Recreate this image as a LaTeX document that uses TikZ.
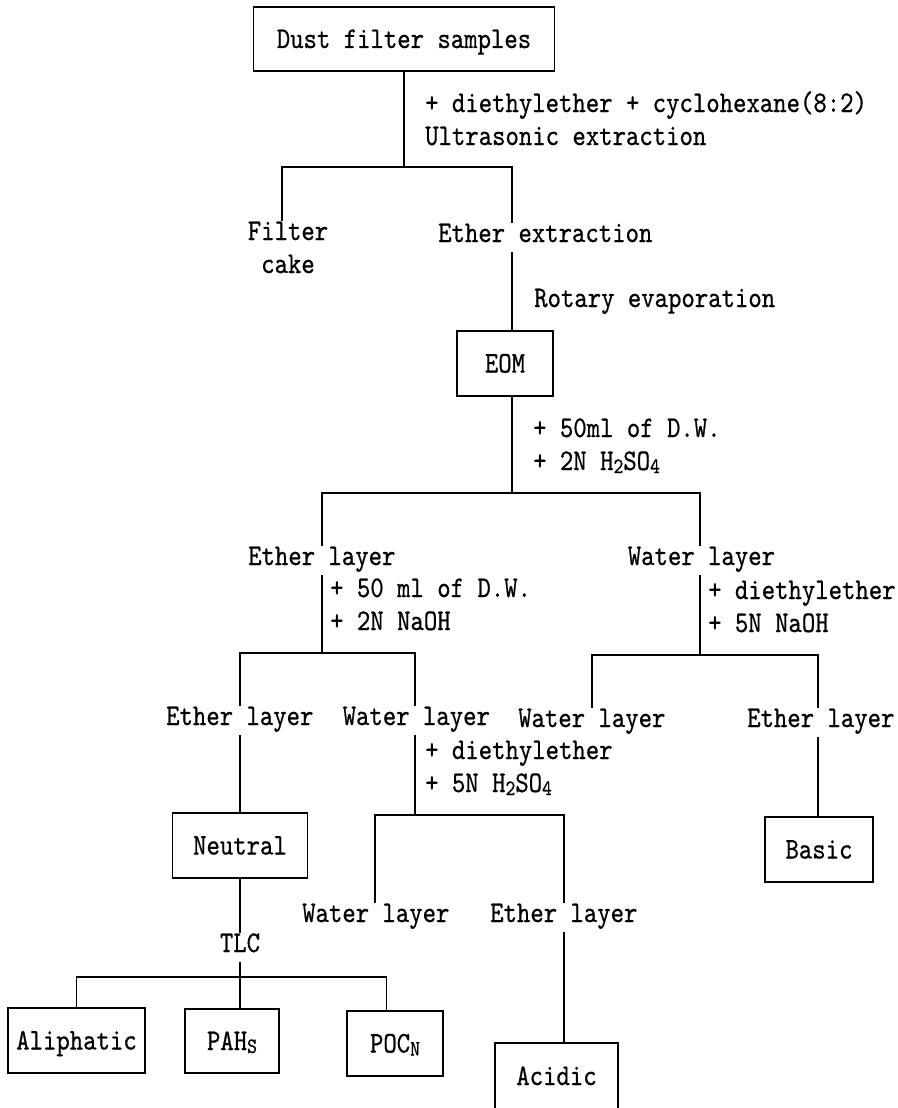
\documentclass[tikz,border=0pt]{standalone}
\usepackage{fontspec}
\newfontfamily\flowfont{lmmono10-regular.otf}[FakeStretch=0.85, FakeBold=0.6]
\usetikzlibrary{positioning}
\newcommand\flowsize{\flowfont\fontsize{30}{33}\selectfont}
\newcommand\dn[1]{\raisebox{-3pt}{\fontsize{22}{22}\selectfont #1}}
\tikzset{
  box/.style  = {rectangle, draw=black, line width=1.4pt, inner sep=0pt,
                 text height=18pt, text depth=0pt, font=\flowsize},
  lbl/.style  = {inner sep=0pt, anchor=base west, text height=19pt,
                 text depth=10pt, font=\flowsize},
  note/.style = {inner sep=0pt, anchor=base west, align=left, font=\flowsize},
  ln/.style   = {line width=1.4pt, black},
}
\begin{document}
\begin{tikzpicture}[x=1pt, y=-1pt]
  \useasboundingbox (0,0) rectangle (897,1108);
  \clip (0,0) rectangle (897,1108);
  % boxes
  \node[box, minimum width=301pt, minimum height=64pt] (dfs) at (404,39) {Dust filter samples};
  \node[box, minimum width=96pt, minimum height=65pt] (eom) at (505,363.5) {EOM};
  \node[box, minimum width=135pt, minimum height=65pt] (neutral) at (240,845.5) {Neutral};
  \node[box, minimum width=137pt, minimum height=65pt] (aliph) at (76.5,1040.5) {Aliphatic};
  \node[box, minimum width=94pt, minimum height=64pt] (pahs) at (232,1041) {PAH\dn{S}};
  \node[box, minimum width=96pt, minimum height=65pt] (pocn) at (395,1043.5) {POC\dn{N}};
  \node[box, minimum width=123pt, minimum height=66pt] (acidic) at (556.5,1076) {Acidic};
  \node[box, minimum width=108pt, minimum height=65pt] (basic) at (819,849.5) {Basic};
  % reagents and steps (anchored on the last line)
  \node[note] (addA) at (425,145) {+ diethylether + cyclohexane(8:2)\\Ultrasonic extraction};
  \node[note] (addB) at (533,470) {+ 50ml of D.W.\\+ 2N H\dn{2}SO\dn{4}};
  \node[note] (addC) at (330,630) {+ 50 ml of D.W.\\+ 2N NaOH};
  \node[note] (addD) at (708,632) {+ diethylether\\+ 5N NaOH};
  \node[note] (addE) at (425,792) {+ diethylether\\+ 5N H\dn{2}SO\dn{4}};
  \node[lbl] (rot) at (534,307) {Rotary evaporation};
  % fractions
  \node[note, align=center, anchor=base] (fc) at (288,273) {Filter\\cake};
  \node[lbl] (ee) at (438,242) {Ether extraction};
  \node[lbl] (el1) at (248,565) {Ether layer};
  \node[lbl] (wl1) at (627.6,565) {Water layer};
  \node[lbl] (el2) at (166,725) {Ether layer};
  \node[lbl] (wl2) at (342.5,725) {Water layer};
  \node[lbl] (wl3) at (518,727) {Water layer};
  \node[lbl] (el3) at (747,727) {Ether layer};
  \node[lbl] (wl4) at (302,922) {Water layer};
  \node[lbl] (el4) at (490,922) {Ether layer};
  \node[lbl, anchor=base] (tlc) at (240,952) {TLC};
  % split points
  \coordinate (sa) at (404,167);   \coordinate (sal) at (282,167);   \coordinate (sar) at (512,167);
  \coordinate (sb) at (512,493);   \coordinate (sbl) at (322,493);   \coordinate (sbr) at (700,493);
  \coordinate (sc) at (322,653);   \coordinate (scl) at (240,653);   \coordinate (scr) at (415,653);
  \coordinate (sd) at (700,655);   \coordinate (sdl) at (592,655);   \coordinate (sdr) at (818,655);
  \coordinate (se) at (415,815);   \coordinate (sel) at (375,815);   \coordinate (ser) at (564,815);
  \coordinate (sf) at (240,977);   \coordinate (sfl) at (76.5,977);  \coordinate (sfr) at (386.5,977);
  % connectors
  \draw[ln] (dfs) -- (sa);
  \draw[ln] (fc.north -| sal) -- (sal) -- (sar) -- (ee.north -| sar);
  \draw[ln] (ee.south -| sar) -- (eom.north -| sar);
  \draw[ln] (eom.south -| sb) -- (sb);
  \draw[ln] (el1.north -| sbl) -- (sbl) -- (sbr) -- (wl1.north -| sbr);
  \draw[ln] (el1.south -| sc) -- (sc);
  \draw[ln] (el2.north -| scl) -- (scl) -- (scr) -- (wl2.north -| scr);
  \draw[ln] (el2.south -| scl) -- (neutral);
  \draw[ln] (wl1.south -| sd) -- (sd);
  \draw[ln] (wl3.north -| sdl) -- (sdl) -- (sdr) -- (el3.north -| sdr);
  \draw[ln] (el3.south -| sdr) -- (basic.north -| sdr);
  \draw[ln] (wl2.south -| se) -- (se);
  \draw[ln] (wl4.north -| sel) -- (sel) -- (ser) -- (el4.north -| ser);
  \draw[ln] (el4.south -| ser) -- (acidic.north -| ser);
  \draw[ln] (neutral) -- (tlc);
  \draw[ln] (tlc) -- (sf);
  \draw[ln] (aliph.north -| sfl) -- (sfl) -- (sfr) -- (pocn.north -| sfr);
  \draw[ln] (sf) -- (pahs.north -| sf);
\end{tikzpicture}
\end{document}
